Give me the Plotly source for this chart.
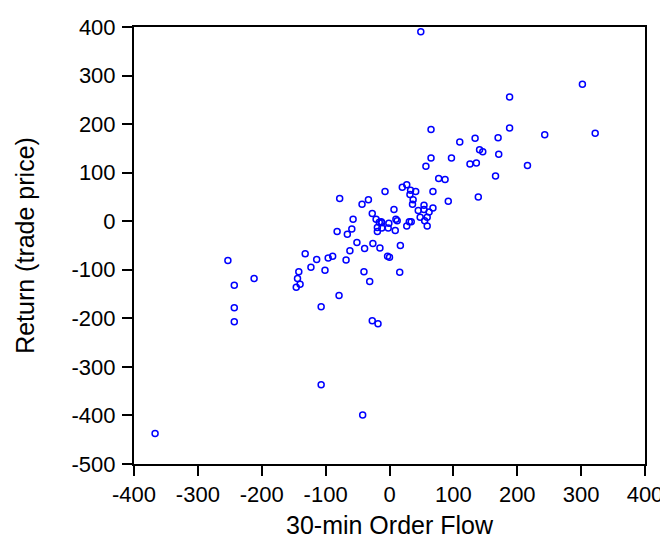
import plotly.graph_objects as go

order_flow = [49, 302, 188, 65, 188, 243, 322, 110, 134, 170, 141, 146, 171, 65, 97, 57, 126, 136, 216, 166,
              77, 87, 27, 20, -7, 33, 41, 32, 68, 37, 36, 92, 139, 54, 7, 45, 54, 68, 62, 48,
              59, 55, 59, 10, 12, 31, 34, 27, -1, -2, 9, -12, -12, 17, -15,
              -78, -43, -33, -57, -27, -21, -16, -13, -19, -19, -82, -66, -59, -51, -26, -39,
              -367, -253, -243, -243, -243, -212, -132, -123, -114, -142, -144, -140, -146, -101, -96, -89,
              -107, -79, -68, -62, 0, -40, -31, -107, -42, -27, -18, 16, -3]
returns = [390, 282, 256, 189, 192, 178, 181, 163, 171, 172, 147, 143, 138, 130, 130, 113, 118, 120, 115, 93,
           88, 86, 75, 70, 61, 64, 61, 55, 61, 44, 35, 41, 50, 33, 24, 22, 24, 27, 19, 8,
           8, 1, -10, 4, 1, -1, -1, -10, -4, -14, -19, -3, -14, -50, -55,
           47, 35, 44, 4, 16, 4, -2, -1, -13, -21, -21, -27, -16, -44, -46, -56,
           -437, -81, -132, -178, -207, -118, -67, -95, -79, -104, -118, -130, -136, -101, -76, -72,
           -176, -153, -80, -61, -74, -104, -124, -337, -399, -205, -211, -105, -72]

x_ticks = [-400, -300, -200, -100, 0, 100, 200, 300, 400]
x_tick_labels = ["-400", "-300", "-200", "-100", "0", "100", "200", "300", "400"]
y_ticks = [400, 300, 200, 100, 0, -100, -200, -300, -400, -500]
y_tick_labels = ["400", "300", "200", "100", "0", "-100", "-200", "-300", "-400", "-500"]

fam = "Liberation Sans, Arial, sans-serif"
tick_font = dict(family=fam, size=22, color="black")
title_font = dict(family=fam, size=25, color="black")

fig = go.Figure(go.Scatter(
    x=order_flow, y=returns, mode="markers",
    marker=dict(symbol="circle-open", size=6, color="#0000FF", line=dict(width=1.5, color="#0000FF")),
    showlegend=False,
))

fig.update_layout(
    width=668, height=548,
    margin=dict(l=126, r=31, t=19, b=92),
    paper_bgcolor="white", plot_bgcolor="white",
    font=tick_font,
    xaxis=dict(range=[-400, 400], tickvals=x_ticks, ticktext=x_tick_labels, ticks="outside", ticklen=10,
               tickwidth=1.5, tickcolor="black", showline=True, linecolor="black", linewidth=2, mirror=True,
               showgrid=False, zeroline=False, automargin=False, tickfont=tick_font,
               title=dict(text="30-min Order Flow", font=title_font, standoff=10)),
    yaxis=dict(range=[-500, 400], tickvals=y_ticks, ticktext=y_tick_labels, ticks="outside", ticklen=10,
               tickwidth=1.5, tickcolor="black", showline=True, linecolor="black", linewidth=2, mirror=True,
               showgrid=False, zeroline=False, automargin=False, tickfont=tick_font,
               ticklabelstandoff=2,
               title=dict(text="Return (trade price)", font=title_font, standoff=30)),
)

fig.write_html("out.html")
